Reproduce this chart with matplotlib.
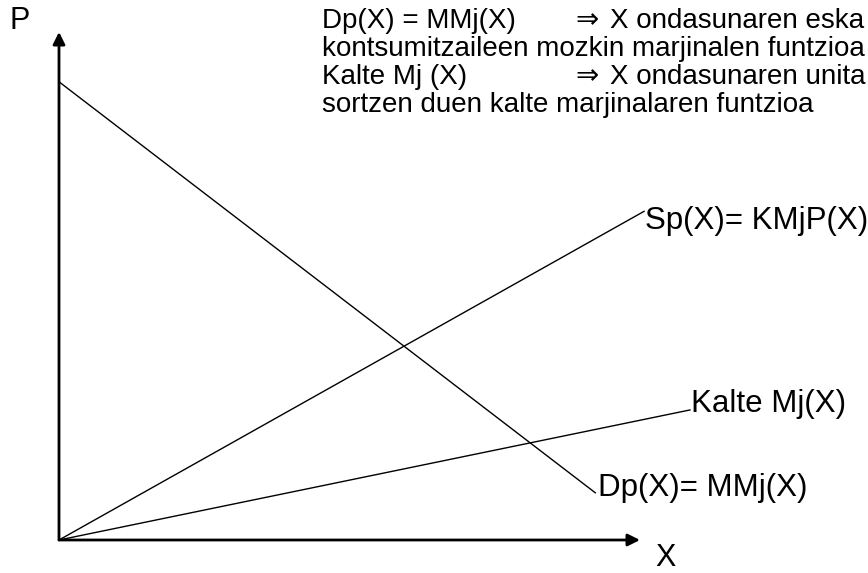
import matplotlib
matplotlib.use("Agg")
import matplotlib.pyplot as plt

plt.rcParams['font.family'] = ['Liberation Sans', 'DejaVu Sans']

# line end points, in arbitrary units (x quantity, P price)
demand_x = [0, 9.23]
demand_p = [9.02, 0.93]
supply_x = [0, 10.07]
supply_p = [0, 6.47]
damage_x = [0, 10.86]
damage_p = [0, 2.56]

labels = ['Dp(X)= MMj(X)', 'Sp(X)= KMjP(X)', 'Kalte Mj(X)']
notes = [
    ('Dp(X) = MMj(X)', 'X ondasunaren eska'),
    ('kontsumitzaileen mozkin marjinalen funtzioa', ''),
    ('Kalte Mj (X)', 'X ondasunaren unita'),
    ('sortzen duen kalte marjinalaren funtzioa', ''),
]

fig = plt.figure(figsize=(8.68, 5.73), dpi=100)
ax = fig.add_axes([0, 0, 1, 1])
ax.set_xlim(-59 / 58.1, 809 / 58.1)
ax.set_ylim(-33 / 50.8, 540 / 50.8)
ax.axis('off')

# axes with arrows
ax.annotate('', xy=(10, 0), xytext=(0, 0),
            arrowprops=dict(arrowstyle='-|>', lw=2, color='black',
                            mutation_scale=18, shrinkA=0, shrinkB=0))
ax.annotate('', xy=(0, 10), xytext=(0, 0),
            arrowprops=dict(arrowstyle='-|>', lw=2, color='black',
                            mutation_scale=18, shrinkA=0, shrinkB=0))

ax.plot(demand_x, demand_p, color='black', lw=1)
ax.plot(supply_x, supply_p, color='black', lw=1)
ax.plot(damage_x, damage_p, color='black', lw=1)

fs_lab = 22.5
ax.text(demand_x[-1] + 0.04, demand_p[-1] + 0.1, labels[0], fontsize=fs_lab, va='center', ha='left')
ax.text(supply_x[-1] + 0.02, supply_p[-1] - 0.2, labels[1], fontsize=fs_lab, va='center', ha='left')
ax.text(damage_x[-1] + 0.02, damage_p[-1] + 0.12, labels[2], fontsize=fs_lab, va='center', ha='left')

fig.text(10 / 868, 1 - 21 / 573, 'P', fontsize=22, va='center', ha='left')
fig.text(655 / 868, 1 - 558 / 573, 'X', fontsize=22, va='center', ha='left')

fs = 20
for i, (left, right) in enumerate(notes):
    y = 1 - (21 + 28 * i) / 573
    fig.text(322 / 868, y, left, fontsize=fs, va='center', ha='left')
    if right:
        fig.text(575 / 868, y, '\u21d2', fontsize=fs, va='center', ha='left')
        fig.text(610 / 868, y, right, fontsize=fs, va='center', ha='left')

fig.savefig('out.png', dpi=100)
